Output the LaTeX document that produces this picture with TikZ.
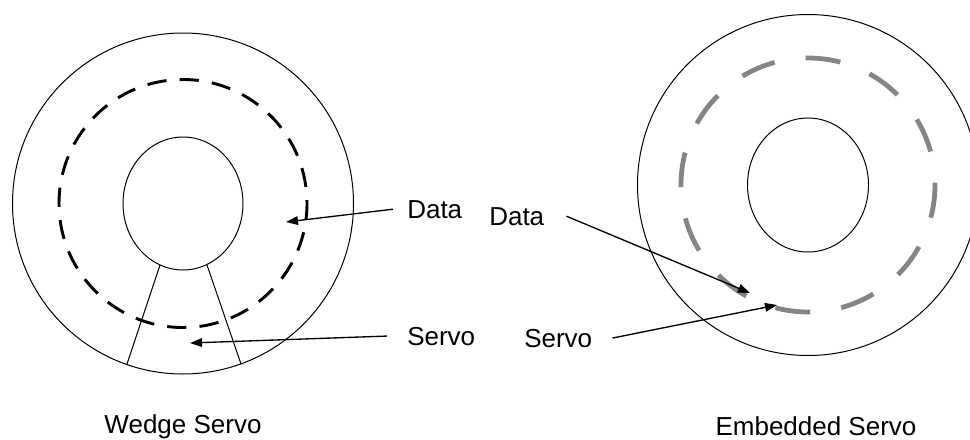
\documentclass[tikz,border=0pt]{standalone}
\usepackage{fontspec}
\setmainfont{Liberation Sans}
\usetikzlibrary{arrows.meta}
\definecolor{servogrey}{HTML}{858585}
\begin{document}
\begin{tikzpicture}[x=0.75pt,y=-0.75pt,
  thin line/.style={draw=black,line width=0.75pt},
  blackdash/.style={draw=black,line width=2.2pt,dash pattern=on 14.5pt off 9.85pt},
  greydash/.style={draw=servogrey,line width=3.6pt,dash pattern=on 26.25pt off 23.6pt},
  pointer/.style={draw=black,line width=1pt,-{Triangle[length=9pt,width=6.5pt]}},
  lbl/.style={inner sep=0pt,font=\fontsize{19.5}{23}\selectfont}]
\useasboundingbox (0,0) rectangle (970,439);
% left disk
\coordinate (lc) at (183,203.5);
\draw[thin line] (lc) circle[radius=170.5];
\draw[thin line] (lc) ellipse[x radius=60,y radius=66.5];
\draw[blackdash] (lc) ++(-1.6:124) arc[start angle=-1.6,end angle=358.4,radius=124];
\coordinate (w1a) at (160,265);
\coordinate (w1b) at (127,364);
\coordinate (w2a) at (207,265);
\coordinate (w2b) at (241,364);
\draw[thin line] (w1a) -- (w1b);
\draw[thin line] (w2a) -- (w2b);
% right disk
\coordinate (rc) at (808,185);
\begin{scope}
\clip (0,0) rectangle (970,439);
\draw[thin line] (rc) circle[radius=170.5];
\end{scope}
\draw[thin line] (rc) ellipse[x radius=60.5,y radius=67];
\draw[greydash] (rc) ++(-0.9:127) arc[start angle=-0.9,end angle=359.1,radius=127];
% labels
\node[lbl,anchor=base west] (dl) at (407,218) {Data};
\node[lbl,anchor=base west] (sl) at (407,345) {Servo};
\node[lbl,anchor=base west] (dr) at (489,225) {Data};
\node[lbl,anchor=base west] (sr) at (524,347) {Servo};
\node[lbl,anchor=base] (wt) at (183,433) {Wedge Servo};
\node[lbl,anchor=base] (et) at (816,435) {Embedded Servo};
% arrow tips
\coordinate (tdl) at (286,222);
\coordinate (tsl) at (190,343);
\coordinate (tdr) at (750,293);
\coordinate (tsr) at (777,305);
\draw[pointer] ([xshift=-10.5pt]dl.west) -- (tdl);
\draw[pointer] ([xshift=-15pt]sl.west) -- (tsl);
\draw[pointer] ([xshift=16.5pt]dr.east) -- (tdr);
\draw[pointer] ([xshift=15pt]sr.east) -- (tsr);
\end{tikzpicture}
\end{document}
